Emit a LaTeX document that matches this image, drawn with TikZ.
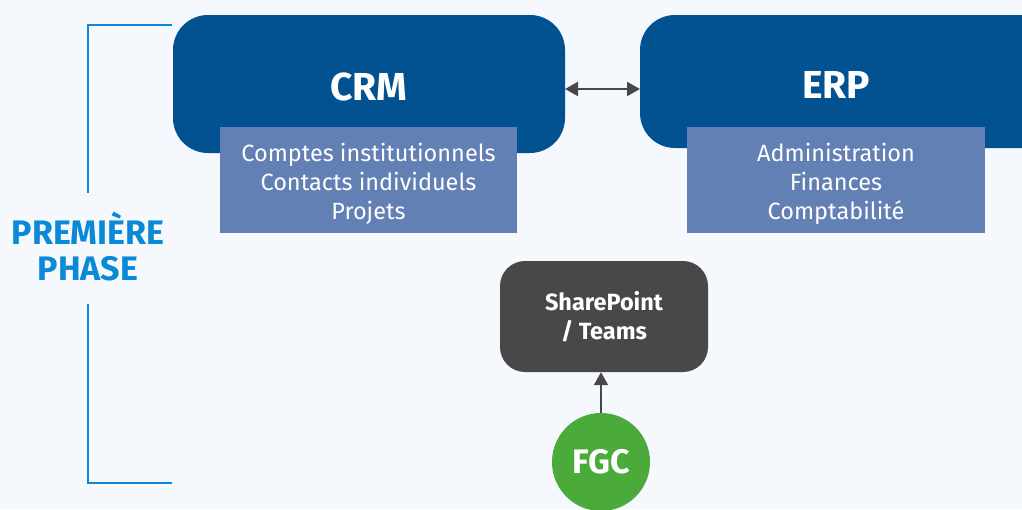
\documentclass[tikz,border=0pt]{standalone}
\usepackage{fontspec}
\setmainfont{Fira Sans}
\usetikzlibrary{arrows.meta}
\definecolor{bgc}{HTML}{F5F8FC}
\definecolor{dblue}{HTML}{025292}
\definecolor{lblue}{HTML}{6380B5}
\definecolor{brk}{HTML}{0A8AD6}
\definecolor{dgray}{HTML}{484848}
\definecolor{fgreen}{HTML}{4AAA3A}
\begin{document}
\begin{tikzpicture}[x=1pt,y=-1pt,
  mainbox/.style={fill=dblue, rounded corners=35pt, inner sep=0pt},
  subbox/.style={fill=lblue, inner sep=0pt, text=white, align=center, font=\fontsize{23.5}{29}\selectfont},
  bigtitle/.style={text=white, font=\bfseries\fontsize{39}{44}\selectfont},
  conn/.style={draw=dgray, line width=2.2pt},
  bracket/.style={draw=brk, line width=2pt}
]
\useasboundingbox (0,0) rectangle (1022,509);
\fill[bgc] (0,0) rectangle (1022,509);
% CRM
\fill[mainbox] (173,15) rectangle (565,153);
\coordinate (crmR) at (565,89);
\node[bigtitle] (crm) at (369,87) {CRM};
\fill[lblue] (220,127) rectangle (517,233);
\node[subbox] (crmsub) at (368.5,184) {Comptes institutionnels\\Contacts individuels\\Projets};
% ERP
\fill[mainbox] (640,15) rectangle (1060,148);
\coordinate (erpL) at (640,89);
\node[bigtitle] (erp) at (836,85) {ERP};
\fill[lblue] (687,127) rectangle (985,233);
\node[subbox] (erpsub) at (836,184) {Administration\\Finances\\Comptabilité};
\draw[conn, {Triangle[length=13pt,width=14pt]}-{Triangle[length=13pt,width=14pt]}] (crmR) -- (erpL);
% SharePoint
\node[fill=dgray, rounded corners=25pt, minimum width=208pt, minimum height=111pt, inner sep=0pt,
  text=white, align=center, font=\bfseries\fontsize{23.5}{29}\selectfont] (sp) at (604,316.5) {SharePoint\\/ Teams};
\node[circle, fill=fgreen, minimum size=98pt, inner sep=0pt, text=white, font=\bfseries\fontsize{34}{38}\selectfont] (fgc) at (601,462) {FGC};
\draw[conn, -{Triangle[length=13pt,width=14pt]}] (fgc.north) -- (fgc.north |- sp.south);
% bracket
\draw[bracket] (172,25) -- (88,25) -- (88,193);
\draw[bracket] (88,304) -- (88,483) -- (172,483);
\node[text=brk, align=center, font=\bfseries\fontsize{34}{36}\selectfont] (phase) at (88,247) {PREMIÈRE\\PHASE};
\end{tikzpicture}
\end{document}
